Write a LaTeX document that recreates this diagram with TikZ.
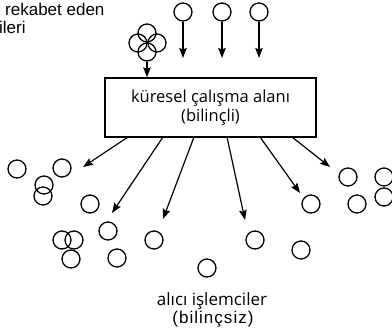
\documentclass[tikz,border=0pt]{standalone}
\usepackage{fontspec}
\setmainfont{Liberation Sans}
\newfontfamily\humfont{Open Sans}
\newfontfamily\widefont[LetterSpace=6]{Liberation Sans}
\usetikzlibrary{arrows.meta}
\begin{document}
\begin{tikzpicture}[x=1pt,y=-1pt,
  bub/.style={circle,draw,line width=1.3pt,minimum size=18pt,inner sep=0pt},
  arr/.style={line width=1.2pt,-{Stealth[length=10pt,width=7.5pt,inset=1.5pt]}},
  lbl/.style={inner sep=0pt,font=\fontsize{17}{19}\selectfont}]
\useasboundingbox (0,0) rectangle (392,333);
% top-left text
\node[lbl,anchor=base west] (tl1) at (5,15) {rekabet eden};
\node[lbl,anchor=base west] (tl2) at (-1,33) {ileri};
% cluster
\node[bub] (c1) at (147,33) {};
\node[bub] (c2) at (138,43) {};
\node[bub] (c3) at (157,43) {};
\node[bub] (c4) at (147,52) {};
% top single circles
\node[bub] (t1) at (183,12) {};
\node[bub] (t2) at (222,12) {};
\node[bub] (t3) at (259,12) {};
\coordinate (e1) at (183,58);
\coordinate (e2) at (222,58);
\coordinate (e3) at (259,58);
\draw[arr] (t1) -- (e1);
\draw[arr] (t2) -- (e2);
\draw[arr] (t3) -- (e3);
% box
\node[draw,line width=1.4pt,minimum width=211pt,minimum height=59pt,inner sep=0pt,align=center,
  font=\humfont\fontsize{16.5}{19}\selectfont] (box) at (210.5,107.5)
  {küresel çalışma alanı\\(bilinçli)};
\draw[arr] (c4) -- (c4 |- box.north);
% outgoing arrows
\coordinate (s1) at (128,137); \coordinate (d1) at (83,167);
\coordinate (s2) at (163,137); \coordinate (d2) at (112,213);
\coordinate (s3) at (194,137); \coordinate (d3) at (163,219);
\coordinate (s4) at (227,137); \coordinate (d4) at (245,220);
\coordinate (s5) at (260,137); \coordinate (d5) at (300,193);
\coordinate (s6) at (292,137); \coordinate (d6) at (330,167);
\foreach \i in {1,...,6} {\draw[arr] (s\i) -- (d\i);}
% receiver circles
\node[bub] (r1) at (17,169) {};
\node[bub] (r2) at (62,168) {};
\node[bub] (r3) at (44,185) {};
\node[bub] (r4) at (43,196) {};
\node[bub] (r5) at (90,204) {};
\node[bub] (r6) at (108,231) {};
\node[bub] (r7) at (62,240) {};
\node[bub] (r8) at (74,240) {};
\node[bub] (r9) at (71,259) {};
\node[bub] (r10) at (117,258) {};
\node[bub] (r11) at (154,240) {};
\node[bub] (r12) at (348,177) {};
\node[bub] (r13) at (384,177) {};
\node[bub] (r14) at (384,197) {};
\node[bub] (r15) at (357,204) {};
\node[bub] (r16) at (311,204) {};
\node[bub] (r17) at (255,240) {};
\node[bub] (r18) at (301,250) {};
\node[bub] (r19) at (207,268) {};
% bottom text
\node[lbl,anchor=base,font=\humfont\fontsize{17}{19}\selectfont] (b1) at (212,305) {alıcı işlemciler};
\node[lbl,anchor=base,font=\widefont\fontsize{17}{19}\selectfont] (b2) at (213,323) {(bilinçsiz)};
\end{tikzpicture}
\end{document}
